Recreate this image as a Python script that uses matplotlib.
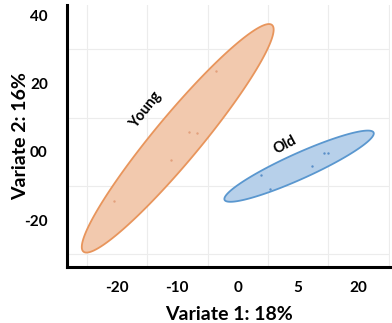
import numpy as np
import matplotlib
matplotlib.use("Agg")
import matplotlib.pyplot as plt
from matplotlib.patches import Polygon

plt.rcParams['font.family'] = ['Lato', 'DejaVu Sans']

# data
young_x = [-3.6, -8.0, -6.75, -11.1, -20.4]
young_y = [23.7, 5.8, 5.6, -2.5, -14.3]
old_x = [3.9, 5.4, 12.3, 14.2, 14.9]
old_y = [-6.8, -10.8, -4.2, -0.4, -0.4]
xtick_pos = [-20, -10, 0, 10, 20]
xtick_labels = ['-20', '-10', '0', '5', '20']
ytick_pos = [-20, 0, 20, 40]
ytick_labels = ['-20', '00', '20', '40']

# ellipse params (center, semi-axis vectors in data units)
young_ell = dict(c=(-9.93, 3.98), a=(15.6, 33.17), b=(2.93, -4.30))
old_ell = dict(c=(10.15, -4.18), a=(12.33, 9.85), b=(0.87, -3.41))

fig = plt.figure(figsize=(3.92, 3.23), dpi=100)
ax = fig.add_axes([0.1717, 0.1743, 0.995 - 0.1717, 0.9845 - 0.1743])
ax.set_xlim(-28.2, 25.2)
ax.set_ylim(-33.6, 43.0)

ax.set_xticks(np.arange(-25, 26, 5), minor=True)
ax.set_yticks(np.arange(-30, 41, 10), minor=True)
ax.grid(True, which='minor', color='#ececec', linewidth=0.8)
ax.set_axisbelow(True)

def ell(p, fc, ec):
    t = np.linspace(0, 2 * np.pi, 200)
    c, a, b = np.array(p['c']), np.array(p['a']), np.array(p['b'])
    pts = c[None, :] + np.outer(np.cos(t), a) + np.outer(np.sin(t), b)
    ax.add_patch(Polygon(pts, closed=True, facecolor=fc, edgecolor=ec, linewidth=1.3, zorder=2))

ell(young_ell, '#f2c9ae', '#e8955c')
ell(old_ell, '#b7d0ea', '#5a97cf')

ax.scatter(young_x, young_y, s=3, color='#e3a07c', zorder=3, linewidths=0)
ax.scatter(old_x, old_y, s=3, color='#5a8fc8', zorder=3, linewidths=0)

ax.text(-15.3, 12.3, 'Young', rotation=52, ha='center', va='center', fontsize=10.5, fontweight='bold', zorder=4)
ax.text(7.9, 2.0, 'Old', rotation=28, ha='center', va='center', fontsize=10.5, fontweight='bold', zorder=4)

ax.set_xticks(xtick_pos)
ax.set_xticklabels(xtick_labels)
ax.set_yticks(ytick_pos)
ax.set_yticklabels(ytick_labels)
ax.tick_params(axis='both', which='both', length=0, labelsize=11)
ax.tick_params(axis='x', pad=10)
ax.tick_params(axis='y', pad=14)
for lab in ax.get_xticklabels() + ax.get_yticklabels():
    lab.set_fontweight('bold')

for s in ['top', 'right']:
    ax.spines[s].set_visible(False)
for s in ['left', 'bottom']:
    ax.spines[s].set_linewidth(2.2)
    ax.spines[s].set_color('black')

ax.set_xlabel('Variate 1: 18%', fontsize=14, fontweight='bold', labelpad=8)
ax.set_ylabel('Variate 2: 16%', fontsize=14, fontweight='bold')
ax.yaxis.set_label_coords(-0.118, 0.5)

fig.savefig('out.png', dpi=100)
